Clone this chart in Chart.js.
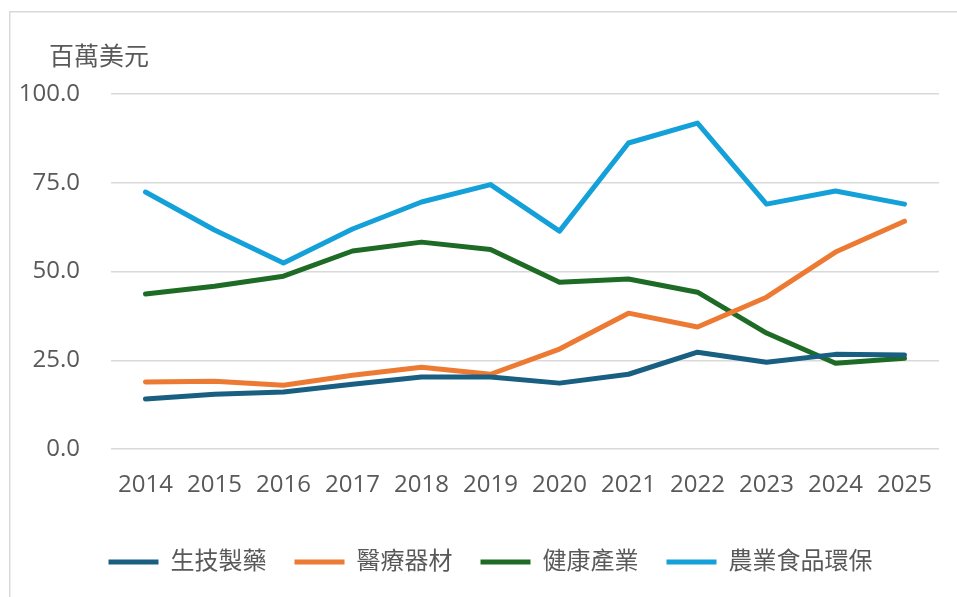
<!DOCTYPE html>
<html>
<head>
<meta charset="utf-8">
<script src="https://cdn.jsdelivr.net/npm/chart.js@4"></script>
<style>
html,body{margin:0;padding:0;background:#fff;}
#wrap{position:relative;width:957px;height:597px;}
</style>
</head>
<body>
<div id="wrap"><canvas id="c" width="957" height="597"></canvas></div>
<script>
const years = ['2014','2015','2016','2017','2018','2019','2020','2021','2022','2023','2024','2025'];
const biotech = [14.1,15.5,16.1,18.3,20.3,20.3,18.6,21.1,27.3,24.5,26.7,26.5];
const medical = [18.9,19.1,18.0,20.8,23.1,21.1,28.2,38.3,34.4,42.8,55.5,64.2];
const health  = [43.7,45.9,48.7,55.8,58.3,56.2,47.0,47.9,44.2,32.7,24.2,25.6];
const agri    = [72.4,61.7,52.4,62.0,69.6,74.5,61.4,86.2,91.8,69.0,72.7,69.0];
const seriesNames = ['生技製藥','醫療器材','健康產業','農業食品環保'];
const unitLabel = '百萬美元';
const yTicks = [0,25,50,75,100];

const colors = ['#185f82','#ed7a33','#1e6b25','#14a0d8'];
const FONT = "'Open Sans','Noto Sans CJK TC',sans-serif";
const TXT = '#595959';

function ds(label, data, color){
  return {label, data, borderColor:color, backgroundColor:color, borderWidth:5,
    pointRadius:0, pointHoverRadius:0, tension:0, borderCapStyle:'round', borderJoinStyle:'round', fill:false};
}

const frame = {
  id:'frame',
  afterLayout(chart){
    if (chart.legend) { chart.legend.left += 11; chart.legend.right += 11; }
  },
  beforeDraw(chart){
    const ctx = chart.ctx;
    ctx.save();
    ctx.strokeStyle = '#d9d9d9';
    ctx.lineWidth = 1.5;
    ctx.strokeRect(9.75, 11.75, 2000, 2000);
    ctx.restore();
  },
  afterDraw(chart){
    const ctx = chart.ctx, a = chart.chartArea;
    ctx.save();
    ctx.fillStyle = TXT;
    ctx.font = "25px " + FONT;
    ctx.textBaseline = 'middle';
    ctx.textAlign = 'left';
    ctx.fillText(unitLabel, a.left - 62, a.top - 36);
    ctx.restore();
  }
};

new Chart(document.getElementById('c'), {
  type:'line',
  data:{
    labels: years,
    datasets:[ds(seriesNames[0],biotech,colors[0]),ds(seriesNames[1],medical,colors[1]),ds(seriesNames[2],health,colors[2]),ds(seriesNames[3],agri,colors[3])]
  },
  options:{
    responsive:false,
    animation:false,
    devicePixelRatio:1,
    layout:{padding:{top:94,left:20,right:18,bottom:13}},
    plugins:{
      legend:{
        position:'bottom',
        labels:{
          usePointStyle:true, pointStyle:'line', pointStyleWidth:50,
          color:TXT, font:{family:FONT,size:24}, padding:28, boxHeight:5
        }
      },
      tooltip:{enabled:false},
      title:{display:false}
    },
    scales:{
      x:{
        offset:true,
        grid:{display:false, drawTicks:false},
        border:{display:false},
        ticks:{color:TXT, font:{family:FONT,size:24}, padding:22, maxRotation:0}
      },
      y:{
        min:0, max:100,
        afterBuildTicks(scale){ scale.ticks = yTicks.map(v=>({value:v})); },
        afterFit(scale){ scale.width = 91; },
        grid:{color:'#d9d9d9', lineWidth:1.5, drawTicks:false},
        border:{display:false},
        ticks:{color:TXT, font:{family:FONT,size:24}, padding:31, callback:v=>Number(v).toFixed(1)}
      }
    }
  },
  plugins:[frame]
});
</script>
</body>
</html>
